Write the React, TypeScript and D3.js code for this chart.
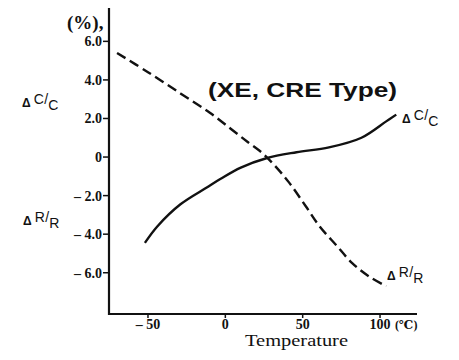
import React from "react";
import * as d3 from "d3";

// temperature (°C) vs change (%)
const capData: [number, number][] = [
  [-52, -4.45], [-44, -3.6], [-29, -2.45], [-12, -1.58], [-3, -1.13],
  [10, -0.55], [27, -0.05], [46, 0.25], [67, 0.5], [88, 1.0],
  [104, 1.85], [110.5, 2.2],
];
const resData: [number, number][] = [
  [-70, 5.4], [-50, 4.4], [-29, 3.3], [-10, 2.3], [4.5, 1.4], [15, 0.75],
  [24, 0.2], [32, -0.45], [41, -1.3], [52, -2.55], [61, -3.6], [72, -4.6],
  [82, -5.5], [93, -6.2], [104, -6.7],
];
const yTicks = [6, 4, 2, 0, -2, -4, -6];
const yTickLabels = ["6.0", "4.0", "2.0", "0", "– 2.0", "– 4.0", "– 6.0"];
const xTicks = [-50, 0, 50, 100];
const xTickLabels = ["– 50", "0", "50", "100"];

const W = 459;
const H = 360;

export default function App() {
  const x = d3.scaleLinear().domain([-75.2, 123.9]).range([109, 417]);
  const y = d3.scaleLinear().domain([-8.14, 7.73]).range([314, 8]);

  const line = d3
    .line<[number, number]>()
    .x((d) => x(d[0]))
    .y((d) => y(d[1]))
    .curve(d3.curveCatmullRom);

  const serif = "'Liberation Serif', 'DejaVu Serif', serif";
  const sans = "'Liberation Sans', Arial, sans-serif";
  const x0 = x.range()[0];
  const yb = y.range()[0];

  const frac = (px: number, py: number, a: string, b: string) => (
    <text x={px} y={py} fontFamily={sans} fontSize={14} fill="#111">
      <tspan fontSize={12} fontWeight="bold">Δ</tspan>
      <tspan dx={3} dy={-3}>{a}</tspan>
      <tspan dx={0.5}>/</tspan>
      <tspan dy={6}>{b}</tspan>
    </text>
  );

  return (
    <svg
      width={W}
      height={H}
      style={{ position: "absolute", left: 0, top: 0, background: "#fff" }}
    >
      {/* axes */}
      <line x1={x0} x2={x0} y1={8} y2={yb + 1} stroke="#111" strokeWidth={2.2} />
      <line x1={x0 - 1} x2={417} y1={yb} y2={yb} stroke="#111" strokeWidth={2.2} />

      {yTicks.map((t, i) => (
        <g key={t}>
          <line x1={x0 - 6} x2={x0} y1={y(t)} y2={y(t)} stroke="#111" strokeWidth={1.5} />
          <text
            x={x0 - 7}
            y={y(t)}
            dy="0.35em"
            textAnchor="end"
            fontFamily={serif}
            fontWeight="bold"
            fontSize={14}
            fill="#111"
          >
            {yTickLabels[i]}
          </text>
        </g>
      ))}

      {xTicks.map((t, i) => (
        <g key={t}>
          <line x1={x(t)} x2={x(t)} y1={yb} y2={yb + 4} stroke="#111" strokeWidth={1.5} />
          <text
            x={x(t)}
            y={329}
            textAnchor="middle"
            fontFamily={serif}
            fontWeight="bold"
            fontSize={14}
            fill="#111"
          >
            {xTickLabels[i]}
          </text>
        </g>
      ))}
      <text x={395} y={329} fontFamily={serif} fontWeight="bold" fontSize={12} fill="#111">
        (℃)
      </text>
      <text
        x={245}
        y={346}
        fontFamily={serif}
        fontSize={17}
        textLength={103}
        lengthAdjust="spacingAndGlyphs"
        fill="#111"
      >
        Temperature
      </text>

      <text x={67} y={29} fontFamily={serif} fontWeight="bold" fontSize={19} fill="#111">
        (%),
      </text>

      {/* curves */}
      <path d={line(capData) ?? ""} fill="none" stroke="#111" strokeWidth={2.4} />
      <path
        d={line(resData) ?? ""}
        fill="none"
        stroke="#111"
        strokeWidth={2.4}
        strokeDasharray="10 5"
      />

      <text
        x={208}
        y={97}
        fontFamily={sans}
        fontWeight="bold"
        fontSize={21}
        textLength={189}
        lengthAdjust="spacingAndGlyphs"
        fill="#111"
      >
        (XE, CRE Type)
      </text>

      {frac(22, 107, "C", "C")}
      {frac(23, 225, "R", "R")}
      {frac(402, 123, "C", "C")}
      {frac(387, 280, "R", "R")}
    </svg>
  );
}
